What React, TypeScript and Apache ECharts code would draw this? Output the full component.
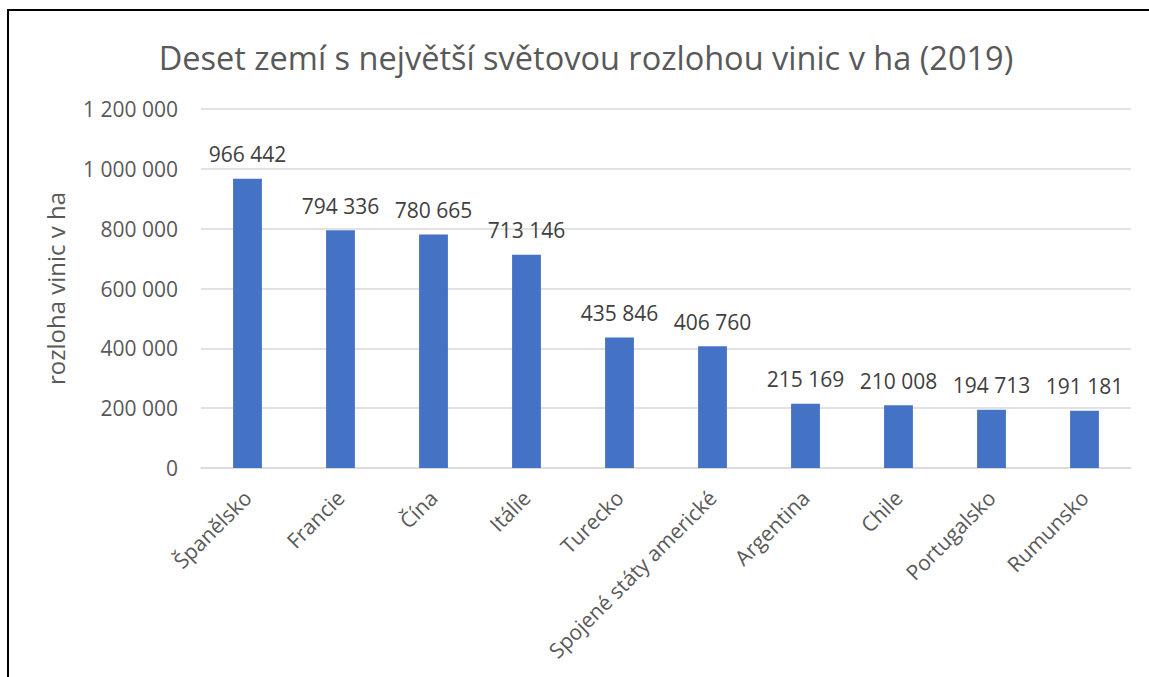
import React, { useEffect, useRef } from "react";
import * as echarts from "echarts";

const categories = [
  "Španělsko",
  "Francie",
  "Čína",
  "Itálie",
  "Turecko",
  "Spojené státy americké",
  "Argentina",
  "Chile",
  "Portugalsko",
  "Rumunsko",
];
const values = [966442, 794336, 780665, 713146, 435846, 406760, 215169, 210008, 194713, 191181];
const titleText = "Deset zemí s největší světovou rozlohou vinic v ha (2019)";
const yAxisName = "rozloha vinic v ha";

const fmt = (v: number) => String(Math.round(v)).replace(/\B(?=(\d{3})+(?!\d))/g, " ");

export default function App() {
  const ref = useRef<HTMLDivElement>(null);
  useEffect(() => {
    if (!ref.current) return;
    const chart = echarts.init(ref.current, undefined, { renderer: "svg" });
    const font = "Open Sans";
    chart.setOption({
      animation: false,
      backgroundColor: "#ffffff",
      title: {
        text: titleText,
        left: 572,
        top: 25,
        textAlign: "center",
        textStyle: { fontFamily: font, fontSize: 32.5, fontWeight: "normal", color: "#595959" },
      },
      grid: { left: 192, right: 18, top: 98, bottom: 209, containLabel: false },
      xAxis: {
        type: "category",
        data: categories,
        axisLine: { lineStyle: { color: "#d9d9d9", width: 1.5 } },
        axisTick: { show: false },
        axisLabel: {
          rotate: 45,
          interval: 0,
          margin: 26,
          fontFamily: font,
          fontSize: 21,
          color: "#595959",
        },
      },
      yAxis: {
        type: "value",
        min: 0,
        max: 1200000,
        interval: 200000,
        name: yAxisName,
        nameLocation: "middle",
        nameGap: 134,
        nameTextStyle: { fontFamily: font, fontSize: 24, color: "#595959" },
        axisLine: { show: false },
        axisTick: { show: false },
        splitLine: { lineStyle: { color: "#d9d9d9", width: 1.5 } },
        axisLabel: {
          formatter: (v: number) => fmt(v),
          margin: 23,
          fontFamily: font,
          fontSize: 21,
          color: "#595959",
        },
      },
      series: [
        {
          type: "bar",
          data: values,
          barWidth: "31%",
          itemStyle: { color: "#4472C4" },
          label: {
            show: true,
            position: "top",
            distance: 14,
            formatter: (p: any) => fmt(p.value),
            fontFamily: font,
            fontSize: 21,
            color: "#404040",
          },
        },
      ],
    });
    return () => chart.dispose();
  }, []);
  return (
    <div style={{ position: "fixed", left: 0, top: 0, width: 1149, height: 677, overflow: "hidden", background: "#fff" }}>
      <div
        style={{
          position: "absolute",
          left: 7,
          top: 9,
          width: 1160,
          height: 700,
          borderLeft: "2px solid #000",
          borderTop: "2px solid #000",
        }}
      />
      <div ref={ref} style={{ position: "absolute", left: 9, top: 11, width: 1140, height: 666 }} />
    </div>
  );
}
